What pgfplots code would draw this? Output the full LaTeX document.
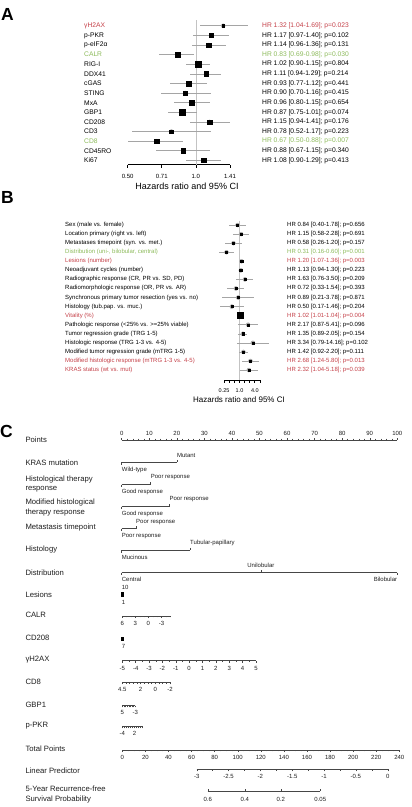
\documentclass[border=0pt]{standalone}
\usepackage{fontspec}
\setmainfont{Liberation Sans}
\setsansfont{Liberation Sans}
\usepackage{pgfplots}
\pgfplotsset{compat=1.18}
\usepackage{pgfplotstable}

\definecolor{hrred}{RGB}{196,64,72}
\definecolor{hrgreen}{RGB}{140,186,90}
\definecolor{cigray}{RGB}{165,165,165}
\definecolor{refgray}{RGB}{195,195,195}
\definecolor{nomogray}{RGB}{70,70,70}
\definecolor{nomotext}{RGB}{30,30,30}

\newcommand\fA{\fontsize{6.7}{8}\selectfont}
\newcommand\fB{\fontsize{6}{7}\selectfont}
\newcommand\fN{\fontsize{7.7}{9.5}\selectfont}
\newcommand\fT{\fontsize{6}{7}\selectfont}
\newcommand\fL{\fontsize{17.5}{20}\selectfont\bfseries}

\pgfplotsset{/pgf/number format/assume math mode=true}

% panel A: hazard ratios (y = -row)
\pgfplotstableread{
y hr lo hi s
-1 1.32 1.04 1.69 1.4
-2 1.17 0.97 1.40 2.1
-3 1.14 0.96 1.36 2.1
-4 0.83 0.69 0.98 2.8
-5 1.02 0.90 1.15 3.1
-6 1.11 0.94 1.29 2.3
-7 0.93 0.77 1.12 2.3
-8 0.90 0.70 1.16 2.0
-9 0.96 0.80 1.15 2.3
-10 0.87 0.75 1.01 3.0
-11 1.15 0.94 1.41 2.1
-12 0.78 0.52 1.17 1.8
-13 0.67 0.50 0.88 2.3
-14 0.88 0.67 1.15 2.3
-15 1.08 0.90 1.29 2.3
}\tabA

% panel B
\pgfplotstableread{
y hr lo hi s
-1 0.84 0.40 1.78 1.0
-2 1.15 0.58 2.28 1.0
-3 0.58 0.26 1.20 1.0
-4 0.31 0.16 0.60 1.0
-5 1.20 1.07 1.36 1.3
-6 1.13 0.94 1.30 1.3
-7 1.63 0.76 3.50 1.0
-8 0.72 0.33 1.54 1.0
-9 0.89 0.21 3.78 0.9
-10 0.50 0.17 1.46 1.0
-11 1.02 1.01 1.04 3.0
-12 2.17 0.87 5.41 1.0
-13 1.35 0.89 2.05 1.1
-14 3.34 0.79 14.16 1.0
-15 1.42 0.92 2.20 1.1
-16 2.68 1.24 5.80 1.0
-17 2.32 1.04 5.18 1.0
}\tabB

% one nomogram scale: x px, y px, width, options
\newcommand\nscale[4]{\begin{axis}[scale only axis, height=1pt, ymin=0, ymax=1,
    anchor=south west, at={(#1pt,-#2pt)}, width=#3pt,
    axis x line*=bottom, axis y line=none, ytick=\empty, clip=false,
    tick align=outside, major tick length=2pt, minor tick length=1.3pt,
    x axis line style={draw=nomogray, line width=0.5pt},
    tick style={draw=nomogray, line width=0.4pt},
    xticklabel style={font=\fT, text=nomotext, inner sep=1pt, yshift=-2pt}, #4]
  \end{axis}}

\newcommand\catline[3]{% y, left point, right point
  \addplot[draw=nomogray, line width=0.5pt] coordinates {(#2,#1) (#3,#1)};}
\newcommand\tickdn[1]{\addplot[only marks, mark=|, mark size=1.25pt,
  mark options={draw=nomogray, line width=0.4pt, yshift=-1.25pt}] coordinates {#1};}
\newcommand\tickup[1]{\addplot[only marks, mark=|, mark size=1.25pt,
  mark options={draw=nomogray, line width=0.4pt, yshift=1.25pt}] coordinates {#1};}

% confidence intervals, then weighted squares
\newcommand\forestplot[2]{%
  \addplot[cigray, only marks, mark=none,
    error bars/.cd, x dir=both, x explicit, error mark=none,
    error bar style={draw=cigray, line width=#2}]
    table[x=hr, y=y, x error plus expr=\thisrow{hi}-\thisrow{hr},
          x error minus expr=\thisrow{hr}-\thisrow{lo}] {#1};
  \addplot[scatter, only marks, mark=square*, scatter src=explicit,
    scatter/use mapped color={draw=none, fill=black},
    visualization depends on={\thisrow{s}\as\msz},
    scatter/@pre marker code/.append style={/tikz/mark size=\msz}]
    table[x=hr, y=y, meta=s] {#1};}

\begin{document}
\begin{tikzpicture}
\path[use as bounding box] (0,0) rectangle (412pt,-807pt);

% ---------- A ----------
\begin{axis}[at={(127.7pt,-164.7pt)}, anchor=south west, scale only axis,
  width=102.3pt, height=145.65pt, xmode=log,
  xmin=0.5, xmax=1.41421, ymin=-15.45, ymax=-0.3,
  axis x line*=bottom, axis y line=none, clip=false, tick align=outside,
  x axis line style={line width=1.1pt}, tick style={black, line width=0.8pt},
  xtick={0.5,0.70711,1,1.41421}, xticklabels={0.50,0.71,1.0,1.41},
  major tick length=3pt, xticklabel style={font=\fT, yshift=-3pt}]
\addplot[refgray, line width=0.6pt] coordinates {(1,-0.4) (1,-15.45)};
\forestplot{\tabA}{0.7pt}
\end{axis}

% ---------- B ----------
\begin{axis}[at={(224.1pt,-380pt)}, anchor=south west, scale only axis,
  width=35.93pt, height=159.5pt, xmode=log,
  xmin=0.25, xmax=6.3496, ymin=-18.1, ymax=-0.5,
  axis x line*=bottom, axis y line=none, clip=false, tick align=outside,
  x axis line style={line width=1pt}, tick style={black, line width=0.8pt},
  xtick={0.25,0.39685,0.62996,1,1.5874,2.51984,4,6.3496},
  xticklabels={0.25,,,1.0,,,4.0,},
  major tick length=2.5pt,
  xticklabel style={font=\fontsize{5.5}{6}\selectfont, yshift=-2.5pt}]
\addplot[refgray, line width=0.5pt] coordinates {(1,-0.5) (1,-18.1)};
\forestplot{\tabB}{0.5pt}
\end{axis}

% ---------- C: nomogram (x in points, y = -pixel) ----------
\begin{axis}[at={(121.7pt,-440pt)}, anchor=north west, scale only axis,
  width=275.6pt, height=300pt, xmin=0, xmax=100, ymin=-740, ymax=-440,
  axis x line*=top, axis y line=none, clip=false,
  xtick={0,10,...,100}, minor x tick num=4, tick align=outside,
  major tick length=2pt, minor tick length=1.3pt,
  x axis line style={draw=nomogray, line width=0.5pt},
  tick style={draw=nomogray, line width=0.4pt},
  xticklabel style={font=\fT, text=nomotext, inner sep=1pt, yshift=1.5pt}]
\catline{-462.3}{0}{20}   \tickdn{(0,-462.3)}   \tickup{(20,-462.3)}
\catline{-484.7}{0}{10.5} \tickdn{(0,-484.7)}   \tickup{(10.5,-484.7)}
\catline{-506.7}{0}{17.3} \tickdn{(0,-506.7)}   \tickup{(17.3,-506.7)}
\catline{-528.7}{0}{5.2}  \tickdn{(0,-528.7)}   \tickup{(5.2,-528.7)}
\catline{-550.3}{0}{24.8} \tickdn{(0,-550.3)}   \tickup{(24.8,-550.3)}
\catline{-572.7}{0}{100}  \tickdn{(0,-572.7) (100,-572.7)} \tickup{(50.5,-572.7)}
% lesions
\catline{-594.3}{0}{0.6}
\addplot[only marks, mark=|, mark size=2.3pt, mark options={draw=black, line width=0.5pt}]
  coordinates {(0,-594.3) (0.2,-594.3) (0.4,-594.3) (0.6,-594.3)};
% CD208
\addplot[only marks, mark=|, mark size=1.6pt, mark options={draw=black, line width=0.5pt}]
  coordinates {(0,-639) (0.2,-639) (0.4,-639) (0.6,-639)};

\begin{scope}[every node/.style={font=\fT, text=nomotext, inner sep=0pt}]
\node[anchor=west] at (axis cs:20,-455.3) {Mutant};
\node[anchor=west] at (axis cs:0,-469.8) {Wild-type};
\node[anchor=west] at (axis cs:10.5,-477.2) {Poor response};
\node[anchor=west] at (axis cs:0,-492.2) {Good response};
\node[anchor=west] at (axis cs:17.3,-499.2) {Poor response};
\node[anchor=west] at (axis cs:0,-514.2) {Good response};
\node[anchor=west] at (axis cs:5.2,-521.7) {Poor response};
\node[anchor=west] at (axis cs:0,-536.5) {Poor response};
\node[anchor=west] at (axis cs:24.8,-543) {Tubular-papillary};
\node[anchor=west] at (axis cs:0,-557.6) {Mucinous};
\node at (axis cs:50.5,-565.5) {Unilobular};
\node[anchor=west] at (axis cs:0,-579.6) {Central};
\node[anchor=east] at (axis cs:100,-579.6) {Bilobular};
\node[anchor=west] at (axis cs:0,-587.3) {10};
\node[anchor=west] at (axis cs:0,-602.3) {1};
\node[anchor=west] at (axis cs:0,-646) {7};
\end{scope}
\end{axis}

\nscale{122.3}{616}{48.3}{x dir=reverse, xmin=-5.1, xmax=6, xtick={-3,0,3,6},
  xticklabels={-3,0,3,6}, minor xtick={-5,-4,-2,-1,1,2,4,5}}
\nscale{122.3}{660.7}{133.7}{xmin=-5, xmax=5, xtick={-5,...,5}, minor x tick num=1}
\nscale{122.3}{682.3}{47.7}{x dir=reverse, xmin=-2, xmax=4.5, xtick={-2,0,2,4.5},
  xticklabels={-2,0,2,4.5}, minor xtick={-1.5,-1,-0.5,0.5,1,1.5,2.5,3,3.5,4}}
\nscale{122.3}{705.7}{13}{x dir=reverse, xmin=-3, xmax=5, xtick={-3,5},
  xticklabels={-3,5}, minor xtick={-2,...,4}, major tick length=1.6pt, minor tick length=1.6pt}
\nscale{122.3}{726.7}{20.3}{xmin=-4, xmax=6, xtick={-4,2}, xticklabels={-4,2},
  minor xtick={-3,-2,-1,0,1,3,4,5,6}, major tick length=1.6pt, minor tick length=1.6pt}
\nscale{122.3}{750}{277}{xmin=0, xmax=240, xtick={0,20,...,240}, minor x tick num=3}
\nscale{196.7}{769.3}{191}{xmin=-3, xmax=0, xtick={-3,-2.5,-2,-1.5,-1,-0.5,0},
  xticklabels={-3,-2.5,-2,-1.5,-1,-0.5,0}, minor x tick num=1}
\nscale{207.7}{791}{112.6}{xmin=-2.827, xmax=-1.058, tick align=inside,
  xtick={-2.827,-2.2426,-1.6794,-1.058}, xticklabels={0.6,0.4,0.2,0.05},
  xticklabel style={yshift=-3pt}}

% ---------- texts ----------
\begin{scope}[x=1pt, y=-1pt]
\node[anchor=base west, inner sep=0pt, font=\fL] at (1,20.7) {A};
\node[anchor=base west, inner sep=0pt, font=\fL] at (1,203.7) {B};
\node[anchor=base west, inner sep=0pt, font=\fL] at (0,437) {C};

\foreach \i/\n/\t/\c in {
  1/{γH2AX}/{HR 1.32 [1.04-1.69]; p=0.023}/hrred,
  2/{p-PKR}/{HR 1.17 [0.97-1.40]; p=0.102}/black,
  3/{p-eIF2α}/{HR 1.14 [0.96-1.36]; p=0.131}/black,
  4/{CALR}/{HR 0.83 [0.69-0.98]; p=0.030}/hrgreen,
  5/{RIG-I}/{HR 1.02 [0.90-1.15]; p=0.804}/black,
  6/{DDX41}/{HR 1.11 [0.94-1.29]; p=0.214}/black,
  7/{cGAS}/{HR 0.93 [0.77-1.12]; p=0.441}/black,
  8/{STING}/{HR 0.90 [0.70-1.16]; p=0.415}/black,
  9/{MxA}/{HR 0.96 [0.80-1.15]; p=0.654}/black,
  10/{GBP1}/{HR 0.87 [0.75-1.01]; p=0.074}/black,
  11/{CD208}/{HR 1.15 [0.94-1.41]; p=0.176}/black,
  12/{CD3}/{HR 0.78 [0.52-1.17]; p=0.223}/black,
  13/{CD8}/{HR 0.67 [0.50-0.88]; p=0.007}/hrgreen,
  14/{CD45RO}/{HR 0.88 [0.67-1.15]; p=0.340}/black,
  15/{Ki67}/{HR 1.08 [0.90-1.29]; p=0.413}/black}{
  \node[anchor=west, inner sep=0pt, font=\fA, text=\c] at (84,{25.8+9.614*(\i-1)}) {\n};
  \node[anchor=west, inner sep=0pt, font=\fA, text=\c] at (262,{25.8+9.614*(\i-1)}) {\t};
}
\node[font=\fontsize{9}{10}\selectfont] at (187,186.7) {Hazards ratio and 95\% CI};

\foreach \i/\n/\t/\c in {
  1/{Sex (male vs. female)}/{HR 0.84 [0.40-1.78]; p=0.656}/black,
  2/{Location primary (right vs. left)}/{HR 1.15 [0.58-2.28]; p=0.691}/black,
  3/{Metastases timepoint (syn. vs. met.)}/{HR 0.58 [0.26-1.20]; p=0.157}/black,
  4/{Distribution (uni-, bilobular, central)}/{HR 0.31 [0.16-0.60]; p=0.001}/hrgreen,
  5/{Lesions (number)}/{HR 1.20 [1.07-1.36]; p=0.003}/hrred,
  6/{Neoadjuvant cycles (number)}/{HR 1.13 [0.94-1.30]; p=0.223}/black,
  7/{Radiographic response (CR, PR vs. SD, PD)}/{HR 1.63 [0.76-3.50]; p=0.209}/black,
  8/{Radiomorphologic response (OR, PR vs. AR)}/{HR 0.72 [0.33-1.54]; p=0.393}/black,
  9/{Synchronous primary tumor resection (yes vs. no)}/{HR 0.89 [0.21-3.78]; p=0.871}/black,
  10/{Histology (tub.pap. vs. muc.)}/{HR 0.50 [0.17-1.46]; p=0.204}/black,
  11/{Vitality (\%)}/{HR 1.02 [1.01-1.04]; p=0.004}/hrred,
  12/{Pathologic response (<25\% vs. >=25\% viable)}/{HR 2.17 [0.87-5.41]; p=0.096}/black,
  13/{Tumor regression grade (TRG 1-5)}/{HR 1.35 [0.89-2.05]; p=0.154}/black,
  14/{Histologic response (TRG 1-3 vs. 4-5)}/{HR 3.34 [0.79-14.16]; p=0.102}/black,
  15/{Modified tumor regression grade (mTRG 1-5)}/{HR 1.42 [0.92-2.20]; p=0.111}/black,
  16/{Modified histologic response (mTRG 1-3 vs. 4-5)}/{HR 2.68 [1.24-5.80]; p=0.013}/hrred,
  17/{KRAS status (wt vs. mut)}/{HR 2.32 [1.04-5.18]; p=0.039}/hrred}{
  \node[anchor=west, inner sep=0pt, font=\fB, text=\c] at (65,{225+9.0625*(\i-1)}) {\n};
  \node[anchor=west, inner sep=0pt, font=\fB, text=\c] at (287,{225+9.0625*(\i-1)}) {\t};
}
\node[font=\fontsize{8}{9}\selectfont] at (239,400) {Hazards ratio and 95\% CI};

\begin{scope}[every node/.style={anchor=west, inner sep=0pt, font=\fN, text=nomotext, align=left}]
\node at (25.3,440) {Points};
\node at (25.3,462.7) {KRAS mutation};
\node at (25.3,484) {Histological therapy\\response};
\node at (25.3,507.5) {Modified histological\\therapy response};
\node at (25.3,527.7) {Metastasis timepoint};
\node at (25.3,550) {Histology};
\node at (25.3,572.3) {Distribution};
\node at (25.3,594.3) {Lesions};
\node at (25.3,615) {CALR};
\node at (25.3,637.7) {CD208};
\node at (25.3,660) {γH2AX};
\node at (25.3,681.7) {CD8};
\node at (25.3,704.5) {GBP1};
\node at (25.3,726) {p-PKR};
\node at (25.3,748.3) {Total Points};
\node at (25.3,770.7) {Linear Predictor};
\node at (25.3,794.7) {5-Year Recurrence-free\\Survival Probability};
\end{scope}
\end{scope}
\end{tikzpicture}
\end{document}
